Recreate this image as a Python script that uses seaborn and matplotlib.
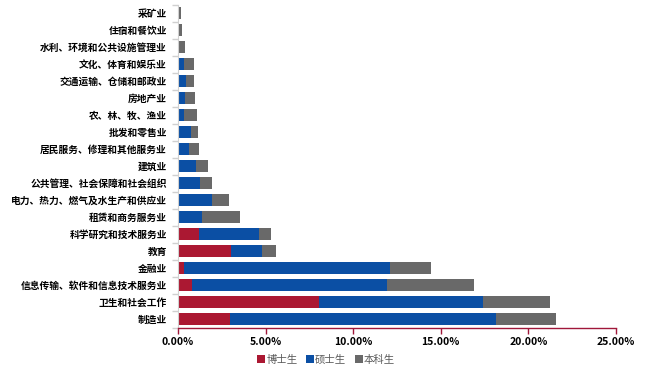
import matplotlib
matplotlib.use("Agg")
import matplotlib.pyplot as plt
import seaborn as sns
import pandas as pd
import numpy as np
from matplotlib.ticker import FixedLocator, FuncFormatter
from matplotlib.patches import Patch

categories = ["采矿业", "住宿和餐饮业", "水利、环境和公共设施管理业", "文化、体育和娱乐业",
              "交通运输、仓储和邮政业", "房地产业", "农、林、牧、渔业", "批发和零售业",
              "居民服务、修理和其他服务业", "建筑业", "公共管理、社会保障和社会组织",
              "电力、热力、燃气及水生产和供应业", "租赁和商务服务业", "科学研究和技术服务业",
              "教育", "金融业", "信息传输、软件和信息技术服务业", "卫生和社会工作", "制造业"]
phd = [0.0, 0.0, 0.0, 0.0, 0.0, 0.0, 0.0, 0.0, 0.0, 0.06, 0.0, 0.08, 0.0, 1.22,
       3.02, 0.34, 0.78, 8.05, 2.97]
master = [0.0, 0.0, 0.0, 0.34, 0.46, 0.40, 0.34, 0.74, 0.63, 0.97, 1.26, 1.86, 1.37, 3.40,
          1.77, 11.76, 11.15, 9.36, 15.18]
bachelor = [0.17, 0.23, 0.38, 0.57, 0.45, 0.57, 0.74, 0.40, 0.57, 0.68, 0.68, 0.97, 2.17, 0.69,
            0.80, 2.34, 4.96, 3.82, 3.43]
series_names = ["博士生", "硕士生", "本科生"]
xticks = [0, 5, 10, 15, 20, 25]

colors = ["#AB1832", "#0B4FA4", "#696969"]

plt.rcParams['font.family'] = ['Noto Sans CJK SC', 'DejaVu Sans']
fig, ax = plt.subplots(figsize=(6.54, 3.77), dpi=100)
fig.subplots_adjust(left=178/654, right=616/654, top=1-4.5/377, bottom=1-327.5/377)

df = pd.DataFrame({"cat": categories, "phd": phd, "master": master, "bachelor": bachelor})
df["c2"] = df["phd"] + df["master"]
df["c3"] = df["c2"] + df["bachelor"]

bw = 0.66
sns.barplot(data=df, x="c3", y="cat", order=categories, color=colors[2], width=bw,
            saturation=1, ax=ax, orient="h")
sns.barplot(data=df, x="c2", y="cat", order=categories, color=colors[1], width=bw,
            saturation=1, ax=ax, orient="h")
sns.barplot(data=df, x="phd", y="cat", order=categories, color=colors[0], width=bw,
            saturation=1, ax=ax, orient="h")
for p in ax.patches:
    p.set_edgecolor("none")

ax.set_xlim(0, 25)
ax.set_ylim(len(categories) - 0.5, -0.5)
ax.set_xlabel("")
ax.set_ylabel("")
ax.xaxis.set_major_locator(FixedLocator(xticks))
ax.xaxis.set_major_formatter(FuncFormatter(lambda v, p: f"{v:.2f}%"))
ax.tick_params(axis="x", colors="#A0173A", length=4, width=1, labelcolor="black",
               labelsize=7.5, pad=3)
for lab in ax.get_xticklabels():
    lab.set_fontweight("bold")

ax.set_yticks(range(len(categories)))
ax.set_yticklabels(categories, fontsize=7, fontweight="bold")
ax.tick_params(axis="y", length=0, pad=8)
ax.set_yticks(np.arange(-0.5, len(categories), 1), minor=True)
ax.tick_params(axis="y", which="minor", length=4, color="#D0D0D0", width=1)

for s in ["top", "right"]:
    ax.spines[s].set_visible(False)
ax.spines["left"].set_color("#D0D0D0")
ax.spines["bottom"].set_color("#A0173A")
ax.spines["bottom"].set_linewidth(1)
ax.grid(False)

handles = [Patch(facecolor=c, edgecolor="none") for c in colors]
fig.legend(handles, series_names, loc="center", bbox_to_anchor=(326/654, 1-360/377),
           ncol=3, frameon=False, fontsize=7.5, handlelength=0.8, handleheight=0.8,
           handletextpad=0.1, columnspacing=0.8, labelcolor="#595959")

fig.savefig("out.png", dpi=100)
